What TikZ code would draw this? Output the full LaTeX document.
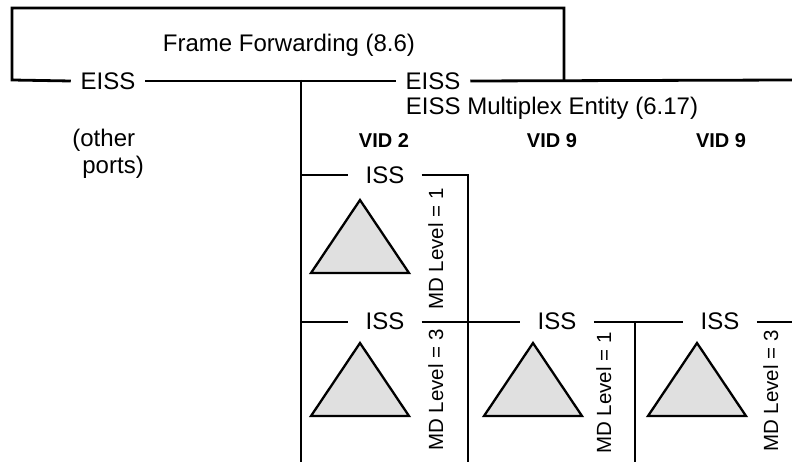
\documentclass[tikz,border=0pt]{standalone}
\usepackage{fontspec}
\setmainfont{Liberation Sans}

\begin{document}
\begin{tikzpicture}[x=1pt,y=-1pt,line width=2.8pt,
    txt/.style={font=\fontsize{24}{27}\selectfont,inner sep=0pt},
    port/.style={txt,inner xsep=8.5pt},
    iss/.style={txt,inner xsep=16pt},
    vid/.style={font=\fontsize{20}{24}\selectfont\bfseries,inner sep=0pt,anchor=base},
    mdlevel/.style={font=\fontsize{20.5}{24}\selectfont,inner sep=0pt,anchor=base,rotate=90},
    mep/.style={fill=black!12,line width=2.3pt}]
    \useasboundingbox (0,0) rectangle (792,462);
    \node[txt,anchor=base] (ff) at (289,52) {Frame Forwarding (8.6)};
    \node[port] (eissL) at (108,81) {EISS};
    \node[port] (eissR) at (433,81) {EISS};
    \node[txt,anchor=base] (mux) at (552,115) {EISS Multiplex Entity (6.17)};
    \node[txt,align=left,anchor=north west] (other) at (71,128) {(other\\\hspace*{10pt}ports)};
    \node[vid] (vid2) at (384,148) {VID 2};
    \node[vid] (vid9a) at (552,148) {VID 9};
    \node[vid] (vid9b) at (721,148) {VID 9};
    \node[iss] (iss1) at (385,175) {ISS};
    \node[iss] (iss2) at (385,321) {ISS};
    \node[iss] (iss3) at (557,321) {ISS};
    \node[iss] (iss4) at (720,321) {ISS};
    \node[mdlevel] (md1) at (443,249) {MD Level = 1};
    \node[mdlevel] (md2) at (443,390) {MD Level = 3};
    \node[mdlevel] (md3) at (611,393) {MD Level = 1};
    \node[mdlevel] (md4) at (778,391) {MD Level = 3};
    \coordinate (boxL) at (12,80);
    \coordinate (boxR) at (564,80);
    \coordinate (busR) at (792,80);
    \coordinate (muxL) at (301,80);
    \coordinate (rowR) at (792,322);
    \draw (eissL.west) -- (boxL) |- (564,8) -- (boxR);
    \draw (eissL.east) -- (eissR.west);
    \draw (eissR.east) -- (busR);
    \draw (muxL) -- (301,462);
    \draw (301,175) -- (iss1.west);
    \draw (iss1.east) -| (468,462);
    \draw (301,322) -- (iss2.west |- 0,322);
    \draw (iss2.east |- 0,322) -- (iss3.west |- 0,322);
    \draw (iss3.east |- 0,322) -- (iss4.west |- 0,322);
    \draw (iss4.east |- 0,322) -- (rowR);
    \draw (635,322) -- (635,462);
    \foreach \x/\y in {360/200,360/343,533/343,697/343}
    \draw[mep] (\x,\y) -- ++(49,73) -- ++(-98,0) -- cycle;
\end{tikzpicture}
\end{document}
